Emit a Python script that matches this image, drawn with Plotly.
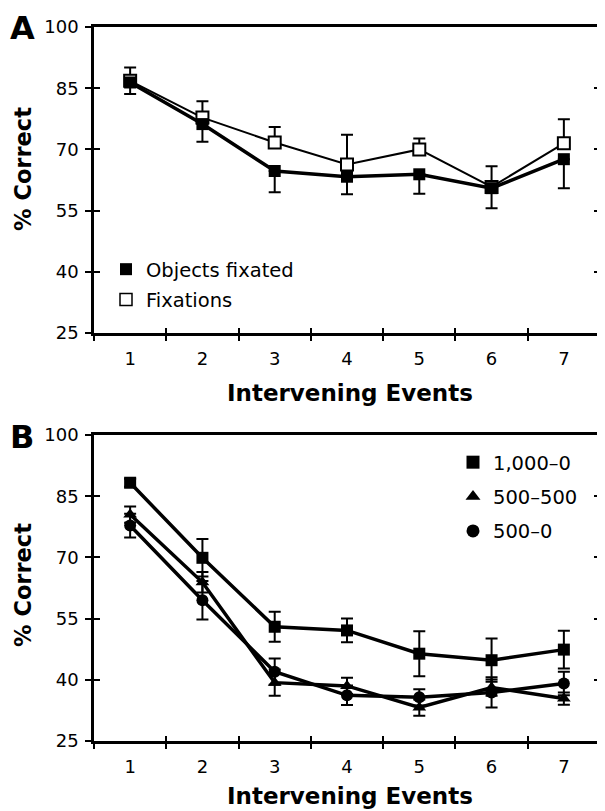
import plotly.graph_objects as go

events = ["1", "2", "3", "4", "5", "6", "7"]

# Panel A
objects_fixated = [86.4, 76.2, 64.7, 63.3, 63.9, 60.5, 67.6]
objects_fixated_err_down = [2.8, 4.3, 5.2, 4.3, 4.8, 4.9, 7.1]
fixations = [86.8, 77.8, 71.7, 66.3, 70.0, 60.8, 71.5]
fixations_err_up = [3.3, 4.0, 3.8, 7.3, 2.7, 5.1, 5.9]

# Panel B
s1000_0 = [88.3, 69.9, 53.0, 52.1, 46.4, 44.8, 47.4]
s1000_0_err = [1.0, 4.6, 3.7, 2.9, 5.5, 5.3, 4.6]
s500_500 = [80.5, 63.9, 39.3, 38.5, 33.2, 38.1, 35.4]
s500_500_err = [2.0, 2.5, 3.2, 2.0, 2.0, 2.0, 1.5]
s500_0 = [77.8, 59.5, 42.0, 36.2, 35.7, 36.9, 39.1]
s500_0_err = [2.9, 4.7, 3.2, 2.4, 2.0, 3.7, 2.9]

y_ticks = [25, 40, 55, 70, 85, 100]

FONT = "DejaVu Sans, Liberation Sans, Arial, sans-serif"
OFF = 8  # page body margin
W, H = 605 - OFF, 811 - OFF


def px(x):  # screen pixel -> paper x
    return (x - OFF) / W


def py(y):  # screen pixel -> paper y
    return 1 - (y - OFF) / H


fig = go.Figure()

zeros = [0] * len(events)

# Panel A traces
fig.add_trace(go.Scatter(
    x=events, y=fixations, mode="lines+markers", xaxis="x", yaxis="y",
    line=dict(color="black", width=2),
    marker=dict(symbol="square", size=12, color="white", line=dict(color="black", width=2)),
    error_y=dict(type="data", symmetric=False, array=fixations_err_up, arrayminus=zeros,
                 color="black", thickness=2, width=6),
    showlegend=False, hoverinfo="skip"))
fig.add_trace(go.Scatter(
    x=events, y=objects_fixated, mode="lines+markers", xaxis="x", yaxis="y",
    line=dict(color="black", width=3.5),
    marker=dict(symbol="square", size=12, color="black"),
    error_y=dict(type="data", symmetric=False, array=zeros, arrayminus=objects_fixated_err_down,
                 color="black", thickness=2, width=6),
    showlegend=False, hoverinfo="skip"))
# legend entries A
fig.add_trace(go.Scatter(x=[None], y=[None], mode="markers", name="Objects fixated",
                         marker=dict(symbol="square", size=12, color="black"),
                         legend="legend", legendgroup="a1", xaxis="x", yaxis="y"))
fig.add_trace(go.Scatter(x=[None], y=[None], mode="markers", name="Fixations",
                         marker=dict(symbol="square", size=12, color="white", line=dict(color="black", width=1.5)),
                         legend="legend", legendgroup="a2", xaxis="x", yaxis="y"))

# Panel B traces
for vals, errs, sym, name, grp in [
    (s1000_0, s1000_0_err, "square", "1,000–0", "b1"),
    (s500_500, s500_500_err, "triangle-up", "500–500", "b2"),
    (s500_0, s500_0_err, "circle", "500–0", "b3"),
]:
    fig.add_trace(go.Scatter(
        x=events, y=vals, mode="lines+markers", xaxis="x2", yaxis="y2",
        line=dict(color="black", width=3.5),
        marker=dict(symbol=sym, size=12, color="black"),
        error_y=dict(type="data", array=errs, color="black", thickness=2, width=6),
        showlegend=False, hoverinfo="skip"))
    fig.add_trace(go.Scatter(x=[None], y=[None], mode="markers", name=name,
                             marker=dict(symbol=sym, size=13, color="black"),
                             legend="legend2", legendgroup=grp, xaxis="x2", yaxis="y2"))

# invisible traces to make the overlay (inside-tick) axes render
for xa, ya in [("x3", "y3"), ("x4", "y4")]:
    fig.add_trace(go.Scatter(x=[None], y=[None], mode="markers", xaxis=xa, yaxis=ya,
                             showlegend=False, hoverinfo="skip"))

xdom = [px(94), px(600)]
ydomA = [py(333), py(27)]
ydomB = [py(741), py(435)]

n = len(events)
boundaries = [i - 0.5 for i in range(n + 1)]

xcommon = dict(type="category", range=[-0.5, n - 0.5], tickson="boundaries",
               showline=True, linecolor="black", linewidth=2.5, mirror=True,
               ticks="outside", ticklen=5, tickwidth=2, tickcolor="black",
               ticklabelstandoff=8,
               showgrid=False, zeroline=False, automargin=False,
               tickfont=dict(family=FONT, size=18, color="black"), domain=xdom)
ycommon = dict(range=[25, 100], tickvals=y_ticks,
               showline=True, linecolor="black", linewidth=2.5, mirror=True,
               ticks="outside", ticklen=6, tickwidth=2, tickcolor="black",
               ticklabelstandoff=3,
               showgrid=False, zeroline=False, automargin=False,
               tickfont=dict(family=FONT, size=18, color="black"))
xover = dict(type="linear", range=[-0.5, n - 0.5], tickvals=boundaries,
             showticklabels=False, ticks="inside", ticklen=5, tickwidth=2, tickcolor="black",
             showline=False, showgrid=False, zeroline=False, automargin=False, domain=xdom)
yover = dict(range=[25, 100], tickvals=y_ticks, showticklabels=False,
             ticks="inside", ticklen=6, tickwidth=2, tickcolor="black",
             showline=True, linecolor="black", linewidth=2.5, mirror="allticks",
             showgrid=False, zeroline=False, automargin=False)

fig.update_layout(
    width=W, height=H,
    margin=dict(l=0, r=0, t=0, b=0),
    paper_bgcolor="white", plot_bgcolor="white",
    font=dict(family=FONT, color="black"),
    xaxis=dict(**xcommon, anchor="y"),
    yaxis=dict(**ycommon, domain=ydomA, anchor="x"),
    xaxis2=dict(**xcommon, anchor="y2"),
    yaxis2=dict(**ycommon, domain=ydomB, anchor="x2"),
    xaxis3=dict(**xover, anchor="y", overlaying="x"),
    yaxis3=dict(**yover, domain=ydomA, anchor="x", overlaying="y"),
    xaxis4=dict(**xover, anchor="y2", overlaying="x2"),
    yaxis4=dict(**yover, domain=ydomB, anchor="x2", overlaying="y2"),
    legend=dict(x=px(106), y=py(250), xanchor="left", yanchor="top",
                bgcolor="rgba(0,0,0,0)", font=dict(family=FONT, size=19.5, color="black"),
                tracegroupgap=2, itemwidth=30),
    legend2=dict(x=px(453), y=py(443), xanchor="left", yanchor="top",
                 bgcolor="rgba(0,0,0,0)", font=dict(family=FONT, size=19.5, color="black"),
                 tracegroupgap=6, itemwidth=30),
    annotations=[
        dict(text="<b>A</b>", x=px(9), y=py(8), xref="paper", yref="paper",
             xanchor="left", yanchor="top", showarrow=False, borderpad=0,
             font=dict(family=FONT, size=32, color="black")),
        dict(text="<b>B</b>", x=px(9), y=py(417), xref="paper", yref="paper",
             xanchor="left", yanchor="top", showarrow=False, borderpad=0,
             font=dict(family=FONT, size=32, color="black")),
        dict(text="<b>% Correct</b>", x=px(23), y=py(169), xref="paper", yref="paper",
             xanchor="center", yanchor="middle", showarrow=False, textangle=-90,
             font=dict(family=FONT, size=22.5, color="black")),
        dict(text="<b>% Correct</b>", x=px(23), y=py(585), xref="paper", yref="paper",
             xanchor="center", yanchor="middle", showarrow=False, textangle=-90,
             font=dict(family=FONT, size=22.5, color="black")),
        dict(text="<b>Intervening Events</b>", x=px(350), y=py(393), xref="paper", yref="paper",
             xanchor="center", yanchor="middle", showarrow=False,
             font=dict(family=FONT, size=23, color="black")),
        dict(text="<b>Intervening Events</b>", x=px(350), y=py(796), xref="paper", yref="paper",
             xanchor="center", yanchor="middle", showarrow=False,
             font=dict(family=FONT, size=23, color="black")),
    ],
)

fig.write_html("out.html")
